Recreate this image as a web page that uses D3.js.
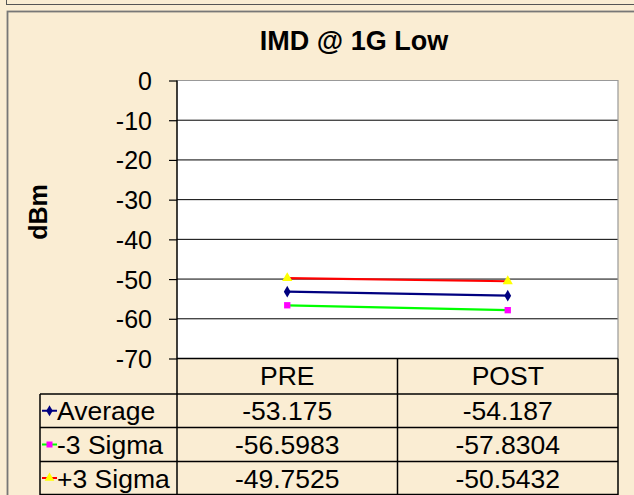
<!DOCTYPE html>
<html><head><meta charset="utf-8">
<script src="https://cdn.jsdelivr.net/npm/d3@7"></script>
<style>
html,body{margin:0;padding:0;background:#FAEDD3;}
svg{display:block;font-family:"Liberation Sans",Arial,sans-serif;}
</style></head>
<body>
<svg id="c" width="634" height="495"></svg>
<script>
const title = "IMD @ 1G Low";
const yLabel = "dBm";
const categories = ["PRE", "POST"];
const seriesNames = ["Average", "-3 Sigma", "+3 Sigma"];
const averageValues = [-53.175, -54.187];
const minus3SigmaValues = [-56.5983, -57.8304];
const plus3SigmaValues = [-49.7525, -50.5432];
const tableLabels = [["-53.175", "-54.187"], ["-56.5983", "-57.8304"], ["-49.7525", "-50.5432"]];
const yTicks = [0, -10, -20, -30, -40, -50, -60, -70];

const series = [
  {name: seriesNames[0], values: averageValues, line: "#000080", fill: "#000080", shape: d3.symbolDiamond, size: 40},
  {name: seriesNames[1], values: minus3SigmaValues, line: "#00FF00", fill: "#FF00FF", shape: d3.symbolSquare, size: 40},
  {name: seriesNames[2], values: plus3SigmaValues, line: "#FF0000", fill: "#FFFF00", shape: d3.symbolTriangle, size: 45}
];

const svg = d3.select("#c");
const W = 634, H = 495;
const bg = "#FAEDD3";

// frames
svg.append("rect").attr("x", 6.5).attr("y", -10).attr("width", 700).attr("height", 14.5)
  .attr("fill", bg).attr("stroke", "#555").attr("stroke-width", 1);
svg.append("rect").attr("x", 7.5).attr("y", 11.5).attr("width", 700).attr("height", 600)
  .attr("fill", bg).attr("stroke", "#777").attr("stroke-width", 1.8);

const plotL = 177, plotR = 618, plotT = 80.5, plotB = 358.5;
const x = d3.scaleBand().domain(categories).range([plotL, plotR]).padding(0);
const y = d3.scaleLinear().domain([-70, 0]).range([plotB, plotT]);
const cx = c => x(c) + x.bandwidth() / 2;

// plot area
svg.append("rect").attr("x", plotL).attr("y", plotT).attr("width", plotR - plotL).attr("height", plotB - plotT)
  .attr("fill", "#fff");
// gridlines
svg.append("g").selectAll("line").data(yTicks.filter(t => t !== 0 && t !== -70)).join("line")
  .attr("x1", plotL).attr("x2", plotR).attr("y1", d => y(d)).attr("y2", d => y(d))
  .attr("stroke", "#000").attr("stroke-width", 1);
// border top/right grey
svg.append("path").attr("d", `M${plotL},${plotT}H${plotR}V${plotB}`).attr("fill", "none")
  .attr("stroke", "#999").attr("stroke-width", 1.2);

// y axis
const yAxis = d3.axisLeft(y).tickValues(yTicks).tickSize(8).tickPadding(17).tickFormat(d => String(d));
const ga = svg.append("g").attr("transform", `translate(${plotL},0)`).call(yAxis);
ga.select(".domain").attr("stroke", "#000").attr("stroke-width", 1.5).attr("d", `M0,${plotT}V${H}`);
ga.selectAll(".tick line").attr("stroke", "#000").attr("stroke-width", 1.2);
ga.selectAll(".tick text").attr("font-size", 25).attr("fill", "#000")
  .attr("font-family", "Liberation Sans, Arial, sans-serif").attr("dy", "0.36em");

// title
svg.append("text").attr("x", 354).attr("y", 50).attr("text-anchor", "middle")
  .attr("font-size", 27).attr("font-weight", "bold").text(title);
// y label
svg.append("text").attr("transform", "translate(47,212) rotate(-90)").attr("text-anchor", "middle")
  .attr("font-size", 25).attr("font-weight", "bold").text(yLabel);

// lines and markers
const line = d3.line().x((d, i) => cx(categories[i])).y(d => y(d));
series.forEach(s => {
  svg.append("path").datum(s.values).attr("d", line).attr("fill", "none")
    .attr("stroke", s.line).attr("stroke-width", 2.2);
  svg.append("g").selectAll("path").data(s.values).join("path")
    .attr("transform", (d, i) => `translate(${cx(categories[i])},${y(d)})`)
    .attr("d", d3.symbol().type(s.shape).size(s.size)).attr("fill", s.fill);
});

// data table
const rowTops = [394, 427.5, 461.5, 494.5];
const legL = 40;
const tg = svg.append("g").attr("stroke", "#000").attr("stroke-width", 1.5);
tg.append("line").attr("x1", plotL).attr("x2", plotR).attr("y1", plotB).attr("y2", plotB);
rowTops.forEach(r => tg.append("line").attr("x1", legL).attr("x2", plotR).attr("y1", r).attr("y2", r));
tg.append("line").attr("x1", legL).attr("x2", legL).attr("y1", rowTops[0]).attr("y2", H);
[x("POST"), plotR].forEach(v => tg.append("line").attr("x1", v).attr("x2", v).attr("y1", plotB).attr("y2", H));

// category labels
svg.append("g").selectAll("text").data(categories).join("text")
  .attr("x", d => cx(d)).attr("y", 384.5).attr("text-anchor", "middle").attr("font-size", 26.5).text(d => d);

series.forEach((s, r) => {
  const top = rowTops[r], bot = rowTops[r + 1];
  const mid = (top + bot) / 2;
  const base = mid + 9.5;
  svg.append("line").attr("x1", 42).attr("x2", 57).attr("y1", mid).attr("y2", mid)
    .attr("stroke", s.line).attr("stroke-width", 2);
  svg.append("path").attr("transform", `translate(49.5,${mid})`)
    .attr("d", d3.symbol().type(s.shape).size(s.size * 0.9)).attr("fill", s.fill);
  svg.append("text").attr("x", 57).attr("y", base).attr("font-size", 26.5).text(s.name);
  categories.forEach((c, i) => {
    svg.append("text").attr("x", cx(c)).attr("y", base).attr("text-anchor", "middle")
      .attr("font-size", 26.5).text(tableLabels[r][i]);
  });
});
</script>
</body></html>
